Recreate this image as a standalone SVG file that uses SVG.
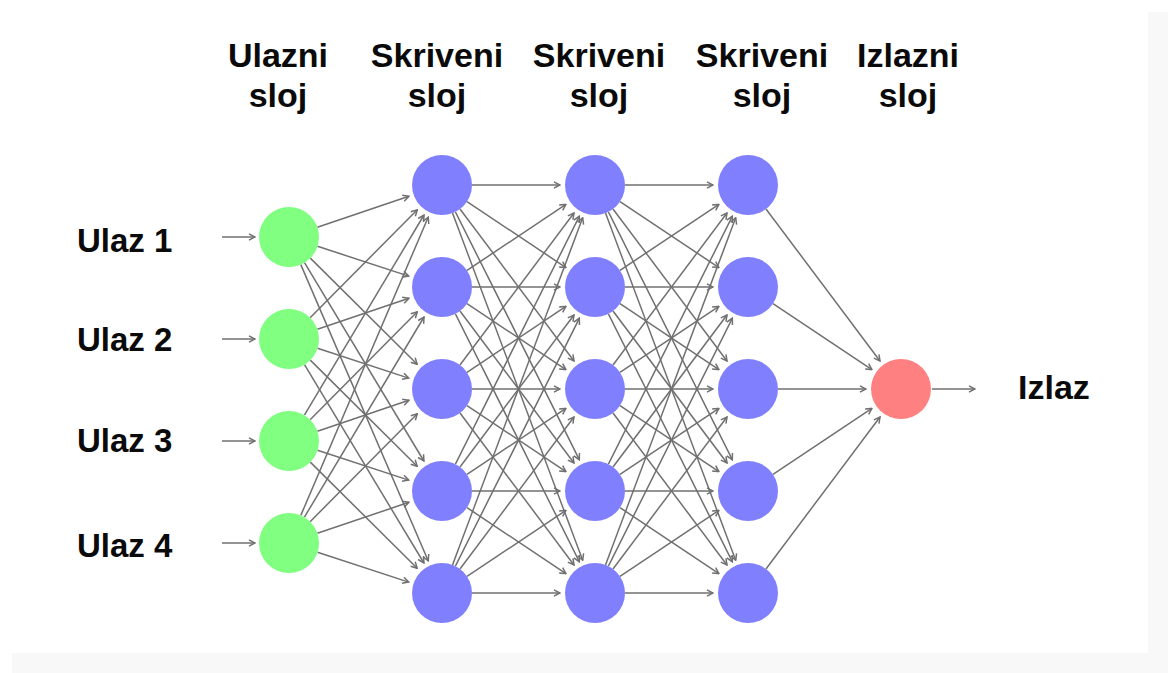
<svg xmlns="http://www.w3.org/2000/svg" xmlns:xlink="http://www.w3.org/1999/xlink" width="1168" height="673" viewBox="0 0 1168 673">
<style>
  .lbl { font-family: "Liberation Sans", Arial, Helvetica, sans-serif; font-weight: bold; fill: #0a0a0a; }
  .hdr { font-size: 34px; text-anchor: middle; }
  .inl { font-size: 33px; }
  .edges { stroke: #707070; stroke-width: 1.5; fill: none; marker-end: url(#arr); }
  .in { fill: #80ff80; }
  .hid { fill: #8080ff; }
  .out { fill: #ff8080; }
</style>
<defs>
  <marker id="arr" markerUnits="userSpaceOnUse" markerWidth="10" markerHeight="10" viewBox="0 0 10 10" refX="9" refY="5" orient="auto">
    <path d="M3,1.8 L9,5 L3,8.2" fill="none" stroke="#707070" stroke-width="1.5"/>
  </marker>
  <!-- input to hidden edges, relative to source centre -->
  <line id="im358" x1="11.8" y1="-27.6" x2="139.2" y2="-325.8"/>
  <line id="im256" x1="15.4" y1="-25.8" x2="135" y2="-226"/>
  <line id="im154" x1="21.1" y1="-21.3" x2="128.3" y2="-129.2"/>
  <line id="im52" x1="28.4" y1="-9.7" x2="119.9" y2="-40.7"/>
  <line id="ip50" x1="28.5" y1="9.3" x2="119.7" y2="39.1"/>
  <line id="ip152" x1="21.3" y1="21.1" x2="128.2" y2="127.3"/>
  <line id="ip254" x1="15.5" y1="25.7" x2="134.9" y2="224"/>
  <line id="ip356" x1="11.8" y1="27.6" x2="139.2" y2="323.8"/>
  <!-- hidden to hidden / output edges -->
  <line id="h0" x1="30" y1="0" x2="118" y2="0"/>
  <line id="hp102" x1="25" y1="16.6" x2="123.9" y2="82.6"/>
  <line id="hm102" x1="25" y1="-16.6" x2="123.9" y2="-82.6"/>
  <line id="hp204" x1="18" y1="24" x2="132" y2="176"/>
  <line id="hm204" x1="18" y1="-24" x2="132" y2="-176"/>
  <line id="hp306" x1="13.4" y1="26.8" x2="137.3" y2="274.7"/>
  <line id="hm306" x1="13.4" y1="-26.8" x2="137.3" y2="-274.7"/>
  <line id="hp408" x1="10.5" y1="28.1" x2="140.7" y2="375.2"/>
  <line id="hm408" x1="10.5" y1="-28.1" x2="140.7" y2="-375.2"/>
</defs>

<rect x="0" y="0" width="1168" height="673" fill="#ffffff"/>
<rect x="12" y="12" width="1156" height="661" fill="#f8f8f8"/>
<rect x="0" y="0" width="1148" height="653" fill="#ffffff"/>

<g id="headers" class="lbl hdr">
  <text x="278" y="67">Ulazni</text><text x="278" y="107">sloj</text>
  <text x="437" y="67">Skriveni</text><text x="437" y="107">sloj</text>
  <text x="599" y="67">Skriveni</text><text x="599" y="107">sloj</text>
  <text x="762" y="67">Skriveni</text><text x="762" y="107">sloj</text>
  <text x="908" y="67">Izlazni</text><text x="908" y="107">sloj</text>
</g>

<g id="connectors" class="edges">
  <line x1="222" y1="237" x2="255" y2="237"/>
  <line x1="222" y1="339" x2="255" y2="339"/>
  <line x1="222" y1="441" x2="255" y2="441"/>
  <line x1="222" y1="543" x2="255" y2="543"/>

  <use xlink:href="#im52" x="289" y="237"/><use xlink:href="#ip50" x="289" y="237"/><use xlink:href="#ip152" x="289" y="237"/><use xlink:href="#ip254" x="289" y="237"/><use xlink:href="#ip356" x="289" y="237"/>
  <use xlink:href="#im154" x="289" y="339"/><use xlink:href="#im52" x="289" y="339"/><use xlink:href="#ip50" x="289" y="339"/><use xlink:href="#ip152" x="289" y="339"/><use xlink:href="#ip254" x="289" y="339"/>
  <use xlink:href="#im256" x="289" y="441"/><use xlink:href="#im154" x="289" y="441"/><use xlink:href="#im52" x="289" y="441"/><use xlink:href="#ip50" x="289" y="441"/><use xlink:href="#ip152" x="289" y="441"/>
  <use xlink:href="#im358" x="289" y="543"/><use xlink:href="#im256" x="289" y="543"/><use xlink:href="#im154" x="289" y="543"/><use xlink:href="#im52" x="289" y="543"/><use xlink:href="#ip50" x="289" y="543"/>

  <use xlink:href="#h0" x="442" y="185"/><use xlink:href="#hp102" x="442" y="185"/><use xlink:href="#hp204" x="442" y="185"/><use xlink:href="#hp306" x="442" y="185"/><use xlink:href="#hp408" x="442" y="185"/>
  <use xlink:href="#hm102" x="442" y="287"/><use xlink:href="#h0" x="442" y="287"/><use xlink:href="#hp102" x="442" y="287"/><use xlink:href="#hp204" x="442" y="287"/><use xlink:href="#hp306" x="442" y="287"/>
  <use xlink:href="#hm204" x="442" y="389"/><use xlink:href="#hm102" x="442" y="389"/><use xlink:href="#h0" x="442" y="389"/><use xlink:href="#hp102" x="442" y="389"/><use xlink:href="#hp204" x="442" y="389"/>
  <use xlink:href="#hm306" x="442" y="491"/><use xlink:href="#hm204" x="442" y="491"/><use xlink:href="#hm102" x="442" y="491"/><use xlink:href="#h0" x="442" y="491"/><use xlink:href="#hp102" x="442" y="491"/>
  <use xlink:href="#hm408" x="442" y="593"/><use xlink:href="#hm306" x="442" y="593"/><use xlink:href="#hm204" x="442" y="593"/><use xlink:href="#hm102" x="442" y="593"/><use xlink:href="#h0" x="442" y="593"/>

  <use xlink:href="#h0" x="595" y="185"/><use xlink:href="#hp102" x="595" y="185"/><use xlink:href="#hp204" x="595" y="185"/><use xlink:href="#hp306" x="595" y="185"/><use xlink:href="#hp408" x="595" y="185"/>
  <use xlink:href="#hm102" x="595" y="287"/><use xlink:href="#h0" x="595" y="287"/><use xlink:href="#hp102" x="595" y="287"/><use xlink:href="#hp204" x="595" y="287"/><use xlink:href="#hp306" x="595" y="287"/>
  <use xlink:href="#hm204" x="595" y="389"/><use xlink:href="#hm102" x="595" y="389"/><use xlink:href="#h0" x="595" y="389"/><use xlink:href="#hp102" x="595" y="389"/><use xlink:href="#hp204" x="595" y="389"/>
  <use xlink:href="#hm306" x="595" y="491"/><use xlink:href="#hm204" x="595" y="491"/><use xlink:href="#hm102" x="595" y="491"/><use xlink:href="#h0" x="595" y="491"/><use xlink:href="#hp102" x="595" y="491"/>
  <use xlink:href="#hm408" x="595" y="593"/><use xlink:href="#hm306" x="595" y="593"/><use xlink:href="#hm204" x="595" y="593"/><use xlink:href="#hm102" x="595" y="593"/><use xlink:href="#h0" x="595" y="593"/>

  <use xlink:href="#hp204" x="748" y="185"/>
  <use xlink:href="#hp102" x="748" y="287"/>
  <use xlink:href="#h0" x="748" y="389"/>
  <use xlink:href="#hm102" x="748" y="491"/>
  <use xlink:href="#hm204" x="748" y="593"/>

  <line x1="932" y1="389" x2="975" y2="389"/>
</g>

<g id="input-labels" class="lbl inl">
  <text x="77" y="252">Ulaz 1</text>
  <text x="77" y="351">Ulaz 2</text>
  <text x="77" y="452">Ulaz 3</text>
  <text x="77" y="557">Ulaz 4</text>
</g>

<g id="in1"><circle class="in" cx="289" cy="237" r="30"/></g>
<g id="in2"><circle class="in" cx="289" cy="339" r="30"/></g>
<g id="in3"><circle class="in" cx="289" cy="441" r="30"/></g>
<g id="in4"><circle class="in" cx="289" cy="543" r="30"/></g>

<g id="h1-1"><circle class="hid" cx="442" cy="185" r="30"/></g>
<g id="h1-2"><circle class="hid" cx="442" cy="287" r="30"/></g>
<g id="h1-3"><circle class="hid" cx="442" cy="389" r="30"/></g>
<g id="h1-4"><circle class="hid" cx="442" cy="491" r="30"/></g>
<g id="h1-5"><circle class="hid" cx="442" cy="593" r="30"/></g>

<g id="h2-1"><circle class="hid" cx="595" cy="185" r="30"/></g>
<g id="h2-2"><circle class="hid" cx="595" cy="287" r="30"/></g>
<g id="h2-3"><circle class="hid" cx="595" cy="389" r="30"/></g>
<g id="h2-4"><circle class="hid" cx="595" cy="491" r="30"/></g>
<g id="h2-5"><circle class="hid" cx="595" cy="593" r="30"/></g>

<g id="h3-1"><circle class="hid" cx="748" cy="185" r="30"/></g>
<g id="h3-2"><circle class="hid" cx="748" cy="287" r="30"/></g>
<g id="h3-3"><circle class="hid" cx="748" cy="389" r="30"/></g>
<g id="h3-4"><circle class="hid" cx="748" cy="491" r="30"/></g>
<g id="h3-5"><circle class="hid" cx="748" cy="593" r="30"/></g>

<g id="output"><circle class="out" cx="901" cy="389" r="30"/></g>

<g id="output-label" class="lbl"><text x="1018" y="399" font-size="34">Izlaz</text></g>
</svg>
